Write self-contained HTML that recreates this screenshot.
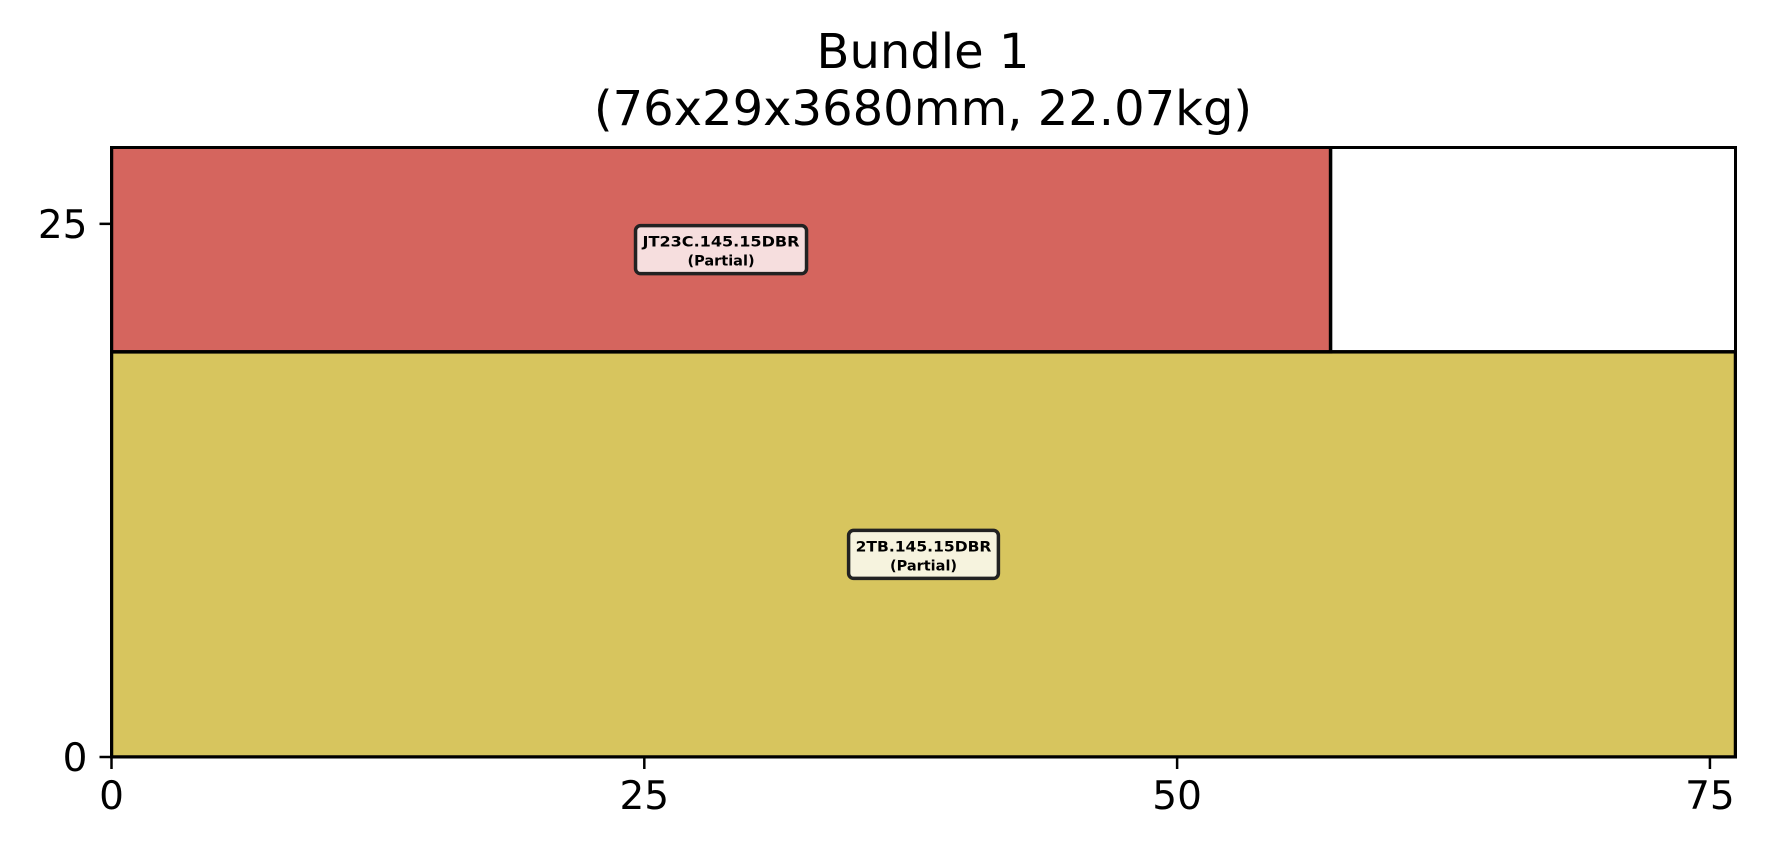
<!DOCTYPE html>
<html><head><meta charset="utf-8"><style>
html,body{margin:0;padding:0;background:#fff;}
svg{display:block;font-family:"DejaVu Sans","Liberation Sans",sans-serif;}
</style></head><body>
<svg id="chart" width="1766" height="858" viewBox="0 0 1766 858" xmlns="http://www.w3.org/2000/svg">
<text x="923" y="68" font-size="48" text-anchor="middle">Bundle 1</text>
<text x="923" y="125" font-size="48" text-anchor="middle">(76x29x3680mm, 22.07kg)</text>
<g id="marks"></g>
<g id="axes"></g>
</svg>
<script>
const itemNames = ["2TB.145.15DBR", "JT23C.145.15DBR"];
const itemX = [0, 0];
const itemY = [0, 19];
const itemW = [76.2, 57.2];
const itemH = [19, 10];
const itemColors = ["#d7c55e", "#d5655e"];
const labelFill = ["#f6f3de", "#f6dede"];
const xTicks = [0, 25, 50, 75];
const yTicks = [0, 25];
const xMax = 76.2, yMax = 28.58;

const L = 111.5, R = 1735.5, T = 147.5, B = 757;
const sx = v => L + v / xMax * (R - L);
const sy = v => B - v / yMax * (B - T);
const NS = "http://www.w3.org/2000/svg";
const marks = document.getElementById('marks');
const axes = document.getElementById('axes');
function mk(tag, attrs, parent) { const e = document.createElementNS(NS, tag); for (const k in attrs) e.setAttribute(k, attrs[k]); parent.appendChild(e); return e; }

const clip = mk('clipPath', {id: 'clipA'}, marks);
mk('rect', {x: L, y: T, width: R - L, height: B - T}, clip);
const g = mk('g', {'clip-path': 'url(#clipA)'}, marks);

itemNames.forEach((n, i) => {
  const x0 = sx(itemX[i]), x1 = sx(itemX[i] + itemW[i]);
  const y0 = sy(itemY[i] + itemH[i]), y1 = sy(itemY[i]);
  const r = mk('rect', {x: x0, y: y0, width: x1 - x0, height: y1 - y0, fill: itemColors[i], stroke: '#000', 'stroke-width': 3.5}, g);
  
  
  const cx = (x0 + Math.min(x1, R)) / 2;
  const cy = (Math.max(y0, T) + y1) / 2;
  const lg = mk('g', {}, marks);
  
  
  const w = n.length * 10.6 + 12;
  mk('rect', {x: cx - w / 2, y: cy - 24, width: w, height: 48, rx: 5, fill: labelFill[i], stroke: '#222', 'stroke-width': 3.5}, lg);
  const t1 = mk('text', {x: cx, y: cy - 3, 'font-size': 14.5, 'font-weight': 'bold', 'text-anchor': 'middle', textLength: w - 14, lengthAdjust: 'spacingAndGlyphs'}, lg);
  t1.textContent = n;
  const t2 = mk('text', {x: cx, y: cy + 16, 'font-size': 14.5, 'font-weight': 'bold', 'text-anchor': 'middle'}, lg);
  t2.textContent = '(Partial)';
});

const frame = mk('rect', {x: L, y: T, width: R - L, height: B - T, fill: 'none', stroke: '#000', 'stroke-width': 3}, axes);


xTicks.forEach(v => {
  const x = sx(v);
  mk('line', {x1: x, y1: B, x2: x, y2: B + 12, stroke: '#000', 'stroke-width': 2.5}, axes);
  const t = mk('text', {x: x, y: B + 52, 'font-size': 39, 'text-anchor': 'middle'}, axes);
  
  
  t.textContent = v;
});
yTicks.forEach(v => {
  const y = sy(v);
  mk('line', {x1: L - 12, y1: y, x2: L, y2: y, stroke: '#000', 'stroke-width': 2.5}, axes);
  const t = mk('text', {x: L - 24, y: y + 14, 'font-size': 39, 'text-anchor': 'end'}, axes);
  
  
  t.textContent = v;
});
</script>
</body></html>
